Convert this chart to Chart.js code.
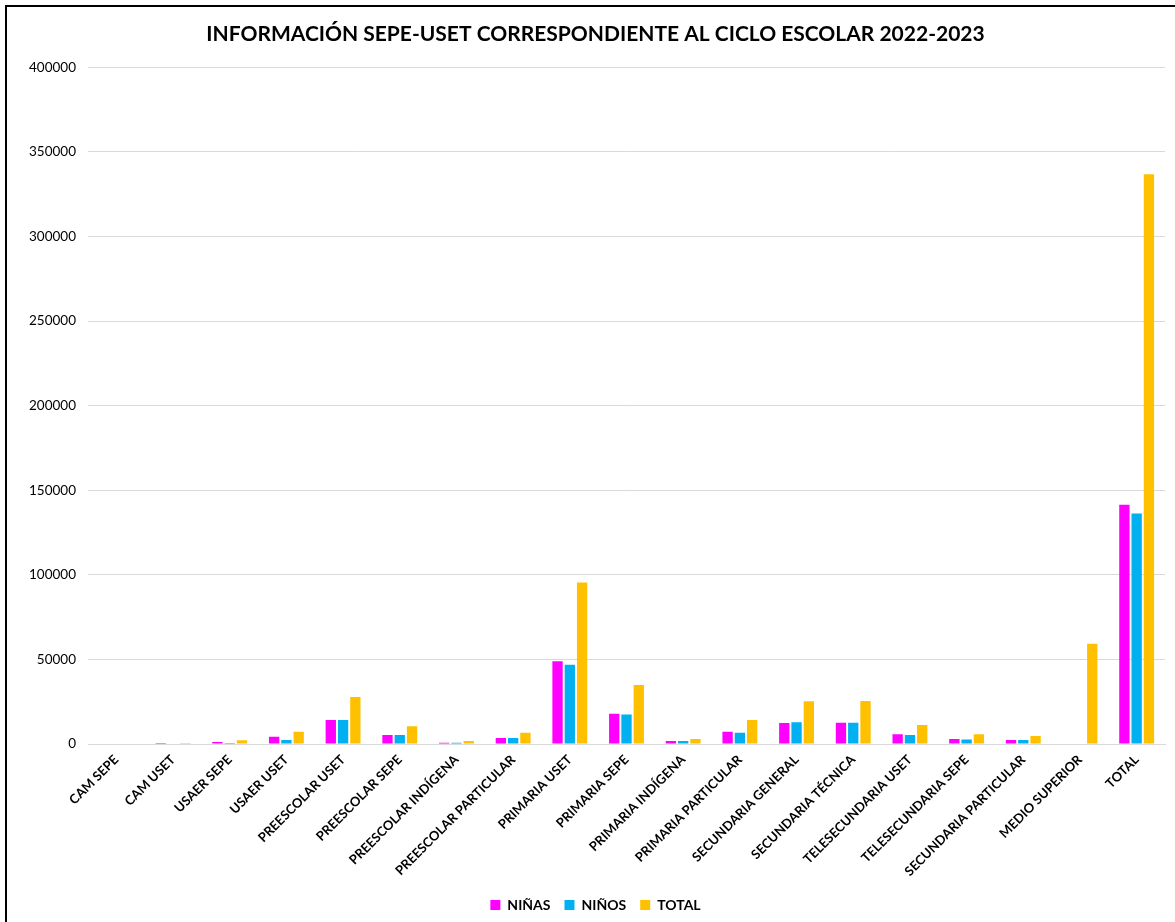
<!DOCTYPE html>
<html>
<head>
<meta charset="utf-8">
<script src="https://cdn.jsdelivr.net/npm/chart.js@4.4.0/dist/chart.umd.min.js"></script>
<style>
  html, body { margin: 0; padding: 0; background: #fff; overflow: hidden; }
  .frame { position: absolute; left: 5px; top: 5px; right: 0; bottom: 0; border-left: 2px solid #000; border-top: 2px solid #000; }
  .wrap { position: absolute; left: 0; top: 0; width: 1175px; height: 922px; }
</style>
</head>
<body>
<div class="frame"></div>
<div class="wrap"><canvas id="chart"></canvas></div>
<script>
// categories and values
const categories = [
  "CAM SEPE", "CAM USET", "USAER SEPE", "USAER USET", "PREESCOLAR USET",
  "PREESCOLAR SEPE", "PREESCOLAR INDÍGENA", "PREESCOLAR PARTICULAR", "PRIMARIA USET",
  "PRIMARIA SEPE", "PRIMARIA INDÍGENA", "PRIMARIA PARTICULAR", "SECUNDARIA GENERAL",
  "SECUNDARIA TÉCNICA", "TELESECUNDARIA USET", "TELESECUNDARIA SEPE",
  "SECUNDARIA PARTICULAR", "MEDIO SUPERIOR", "TOTAL"
];
const ninas = [0, 600, 1200, 4300, 14200, 5300, 800, 3500, 48900, 17900, 1800, 7300, 12400, 12600, 5700, 3000, 2400, 0, 141400];
const ninos = [0, 0, 600, 2400, 14200, 5300, 800, 3500, 46900, 17400, 1700, 6700, 12800, 12600, 5300, 2600, 2400, 0, 136300];
const total = [0, 600, 2200, 7300, 27800, 10500, 1800, 6700, 95500, 34900, 3000, 14200, 25200, 25400, 11200, 5700, 4700, 59300, 336700];
const yTicks = [0, 50000, 100000, 150000, 200000, 250000, 300000, 350000, 400000];

const ctx = document.getElementById("chart").getContext("2d");

const barStyle = {
  borderWidth: 0,
  barPercentage: 0.84,
  categoryPercentage: 0.65,
};

new Chart(ctx, {
  type: "bar",
  data: {
    labels: categories,
    datasets: [
      { label: "NIÑAS", data: ninas, backgroundColor: "#ff00ff", ...barStyle },
      { label: "NIÑOS", data: ninos, backgroundColor: "#00b0f0", ...barStyle },
      { label: "TOTAL", data: total, backgroundColor: "#ffc000", ...barStyle },
    ],
  },
  options: {
    responsive: true,
    maintainAspectRatio: false,
    animation: false,
    layout: { padding: { left: 26, right: 10, top: 12, bottom: 0 } },
    plugins: {
      title: {
        display: true,
        text: "INFORMACIÓN SEPE-USET CORRESPONDIENTE AL CICLO ESCOLAR 2022-2023",
        color: "#000",
        font: { family: "Lato", size: 21, weight: "bold" },
        padding: { top: 10, bottom: 20 },
      },
      legend: {
        position: "bottom",
        labels: {
          color: "#000",
          font: { family: "Lato", size: 14, weight: "bold" },
          boxWidth: 10,
          boxHeight: 10,
          padding: 14,
        },
      },
      tooltip: { enabled: false },
    },
    scales: {
      x: {
        grid: { display: false, drawTicks: false },
        border: { color: "#d9d9d9", width: 1 },
        afterFit: (axis) => { axis.height = 140; },
        ticks: {
          color: "#000",
          font: { family: "Lato", size: 13, weight: "bold" },
          maxRotation: 45,
          minRotation: 45,
          autoSkip: false,
          padding: 8,
        },
      },
      y: {
        min: 0,
        max: 400000,
        afterBuildTicks: (axis) => { axis.ticks = yTicks.map(v => ({ value: v })); },
        afterFit: (axis) => { axis.width = 62; },
        grid: { color: "#d9d9d9", drawTicks: false },
        border: { display: false },
        ticks: {
          color: "#000",
          font: { family: "Lato", size: 13.5 },
          padding: 12,
          callback: (v) => String(v),
        },
      },
    },
  },
});
</script>
</body>
</html>
